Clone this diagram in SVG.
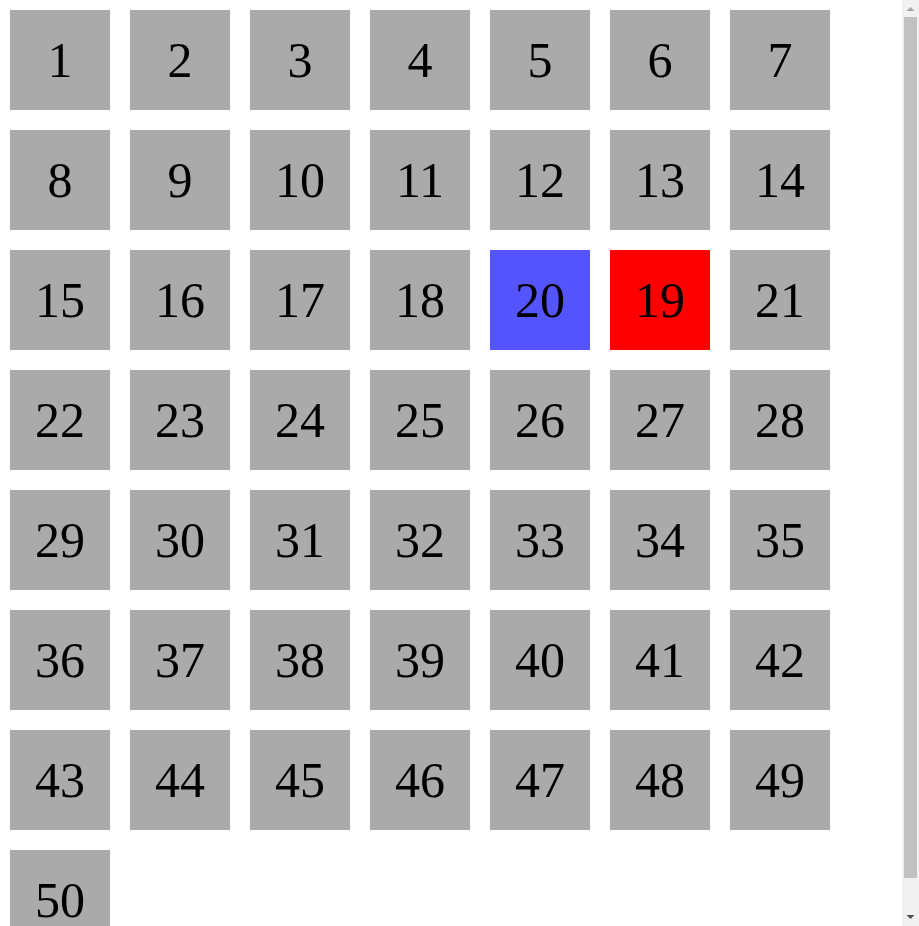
<svg xmlns="http://www.w3.org/2000/svg" width="919" height="926" viewBox="0 0 919 926">
<style>
.b{fill:#aaaaaa}
.t{font-family:"Liberation Serif","Times New Roman",serif;font-size:50px;text-anchor:middle;fill:#000}
</style>
<rect width="919" height="926" fill="#fff"/>
<g id="n1"><rect class="b" x="10" y="10" width="100" height="100"/><text class="t" x="60" y="77">1</text></g>
<g id="n2"><rect class="b" x="130" y="10" width="100" height="100"/><text class="t" x="180" y="77">2</text></g>
<g id="n3"><rect class="b" x="250" y="10" width="100" height="100"/><text class="t" x="300" y="77">3</text></g>
<g id="n4"><rect class="b" x="370" y="10" width="100" height="100"/><text class="t" x="420" y="77">4</text></g>
<g id="n5"><rect class="b" x="490" y="10" width="100" height="100"/><text class="t" x="540" y="77">5</text></g>
<g id="n6"><rect class="b" x="610" y="10" width="100" height="100"/><text class="t" x="660" y="77">6</text></g>
<g id="n7"><rect class="b" x="730" y="10" width="100" height="100"/><text class="t" x="780" y="77">7</text></g>
<g id="n8"><rect class="b" x="10" y="130" width="100" height="100"/><text class="t" x="60" y="197">8</text></g>
<g id="n9"><rect class="b" x="130" y="130" width="100" height="100"/><text class="t" x="180" y="197">9</text></g>
<g id="n10"><rect class="b" x="250" y="130" width="100" height="100"/><text class="t" x="300" y="197">10</text></g>
<g id="n11"><rect class="b" x="370" y="130" width="100" height="100"/><text class="t" x="420" y="197">11</text></g>
<g id="n12"><rect class="b" x="490" y="130" width="100" height="100"/><text class="t" x="540" y="197">12</text></g>
<g id="n13"><rect class="b" x="610" y="130" width="100" height="100"/><text class="t" x="660" y="197">13</text></g>
<g id="n14"><rect class="b" x="730" y="130" width="100" height="100"/><text class="t" x="780" y="197">14</text></g>
<g id="n15"><rect class="b" x="10" y="250" width="100" height="100"/><text class="t" x="60" y="317">15</text></g>
<g id="n16"><rect class="b" x="130" y="250" width="100" height="100"/><text class="t" x="180" y="317">16</text></g>
<g id="n17"><rect class="b" x="250" y="250" width="100" height="100"/><text class="t" x="300" y="317">17</text></g>
<g id="n18"><rect class="b" x="370" y="250" width="100" height="100"/><text class="t" x="420" y="317">18</text></g>
<g id="n20"><rect x="490" y="250" width="100" height="100" fill="#5555ff"/><text class="t" x="540" y="317">20</text></g>
<g id="n19"><rect x="610" y="250" width="100" height="100" fill="#ff0000"/><text class="t" x="660" y="317">19</text></g>
<g id="n21"><rect class="b" x="730" y="250" width="100" height="100"/><text class="t" x="780" y="317">21</text></g>
<g id="n22"><rect class="b" x="10" y="370" width="100" height="100"/><text class="t" x="60" y="437">22</text></g>
<g id="n23"><rect class="b" x="130" y="370" width="100" height="100"/><text class="t" x="180" y="437">23</text></g>
<g id="n24"><rect class="b" x="250" y="370" width="100" height="100"/><text class="t" x="300" y="437">24</text></g>
<g id="n25"><rect class="b" x="370" y="370" width="100" height="100"/><text class="t" x="420" y="437">25</text></g>
<g id="n26"><rect class="b" x="490" y="370" width="100" height="100"/><text class="t" x="540" y="437">26</text></g>
<g id="n27"><rect class="b" x="610" y="370" width="100" height="100"/><text class="t" x="660" y="437">27</text></g>
<g id="n28"><rect class="b" x="730" y="370" width="100" height="100"/><text class="t" x="780" y="437">28</text></g>
<g id="n29"><rect class="b" x="10" y="490" width="100" height="100"/><text class="t" x="60" y="557">29</text></g>
<g id="n30"><rect class="b" x="130" y="490" width="100" height="100"/><text class="t" x="180" y="557">30</text></g>
<g id="n31"><rect class="b" x="250" y="490" width="100" height="100"/><text class="t" x="300" y="557">31</text></g>
<g id="n32"><rect class="b" x="370" y="490" width="100" height="100"/><text class="t" x="420" y="557">32</text></g>
<g id="n33"><rect class="b" x="490" y="490" width="100" height="100"/><text class="t" x="540" y="557">33</text></g>
<g id="n34"><rect class="b" x="610" y="490" width="100" height="100"/><text class="t" x="660" y="557">34</text></g>
<g id="n35"><rect class="b" x="730" y="490" width="100" height="100"/><text class="t" x="780" y="557">35</text></g>
<g id="n36"><rect class="b" x="10" y="610" width="100" height="100"/><text class="t" x="60" y="677">36</text></g>
<g id="n37"><rect class="b" x="130" y="610" width="100" height="100"/><text class="t" x="180" y="677">37</text></g>
<g id="n38"><rect class="b" x="250" y="610" width="100" height="100"/><text class="t" x="300" y="677">38</text></g>
<g id="n39"><rect class="b" x="370" y="610" width="100" height="100"/><text class="t" x="420" y="677">39</text></g>
<g id="n40"><rect class="b" x="490" y="610" width="100" height="100"/><text class="t" x="540" y="677">40</text></g>
<g id="n41"><rect class="b" x="610" y="610" width="100" height="100"/><text class="t" x="660" y="677">41</text></g>
<g id="n42"><rect class="b" x="730" y="610" width="100" height="100"/><text class="t" x="780" y="677">42</text></g>
<g id="n43"><rect class="b" x="10" y="730" width="100" height="100"/><text class="t" x="60" y="797">43</text></g>
<g id="n44"><rect class="b" x="130" y="730" width="100" height="100"/><text class="t" x="180" y="797">44</text></g>
<g id="n45"><rect class="b" x="250" y="730" width="100" height="100"/><text class="t" x="300" y="797">45</text></g>
<g id="n46"><rect class="b" x="370" y="730" width="100" height="100"/><text class="t" x="420" y="797">46</text></g>
<g id="n47"><rect class="b" x="490" y="730" width="100" height="100"/><text class="t" x="540" y="797">47</text></g>
<g id="n48"><rect class="b" x="610" y="730" width="100" height="100"/><text class="t" x="660" y="797">48</text></g>
<g id="n49"><rect class="b" x="730" y="730" width="100" height="100"/><text class="t" x="780" y="797">49</text></g>
<g id="n50"><rect class="b" x="10" y="850" width="100" height="100"/><text class="t" x="60" y="917">50</text></g>
<g id="connectors"></g>
<g id="scrollbar">
<rect x="902" y="0" width="17" height="926" fill="#f1f1f1"/>
<rect x="904" y="17" width="13" height="861" fill="#c1c1c1"/>
<polygon points="906.5,11 910.5,7 914.5,11" fill="#a3a3a3"/>
<polygon points="906.5,915 914.5,915 910.5,919" fill="#505050"/>
</g>
</svg>
